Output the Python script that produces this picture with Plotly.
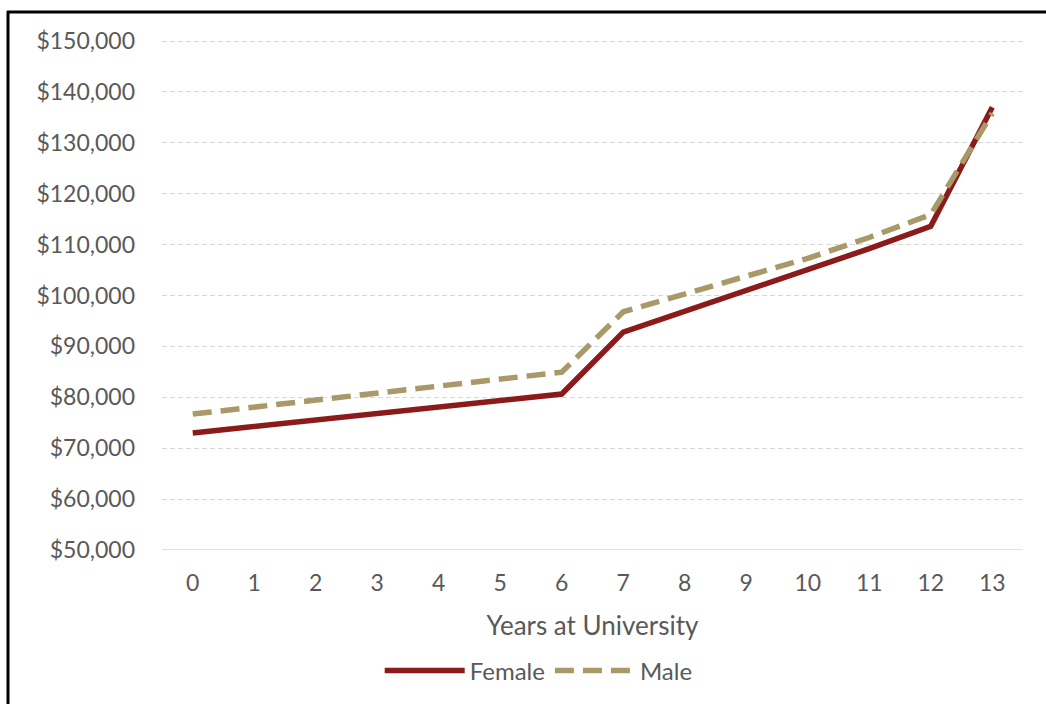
import plotly.graph_objects as go

# Average salary by years at the university
years = list(range(14))
female = [73000, 74250, 75500, 76750, 78000, 79300, 80650,
          92800, 96850, 100900, 104900, 109200, 113600, 137000]
male = [76700, 78100, 79500, 80850, 82200, 83600, 84950,
        96800, 100300, 103600, 107300, 111400, 115900, 135800]

y_ticks = list(range(50000, 150001, 10000))
y_labels = [f"${v:,}" for v in y_ticks]

font_family = "Lato, 'Open Sans', sans-serif"
text_grey = "#595959"

fig = go.Figure()
fig.add_trace(go.Scatter(
    x=years, y=female, name="Female", mode="lines",
    line=dict(color="#8B1A1A", width=5.5),
))
fig.add_trace(go.Scatter(
    x=years, y=male, name="Male", mode="lines",
    line=dict(color="#A99968", width=5.5, dash="19px,9px"),
))

fig.update_layout(
    width=1046, height=704,
    margin=dict(l=162, r=23, t=40, b=154, autoexpand=False),
    paper_bgcolor="white", plot_bgcolor="white",
    font=dict(family=font_family, size=23, color=text_grey),
    showlegend=True,
    legend=dict(orientation="h", xref="container", yref="container",
                x=0.515, xanchor="center", y=(704 - 671) / 704,
                yanchor="middle", font=dict(size=24, color=text_grey),
                itemwidth=80, tracegroupgap=0),
    xaxis=dict(
        range=[-0.5, 13.5], tickmode="array", tickvals=years,
        ticktext=[str(v) for v in years], automargin=False,
        showgrid=False, zeroline=False, showline=False,
        ticks="", ticklabelstandoff=17,
        tickfont=dict(size=23, color=text_grey),
        title=dict(text="Years at University", standoff=21,
                   font=dict(size=26, color=text_grey)),
    ),
    yaxis=dict(
        range=[50000, 150200], tickmode="array", tickvals=y_ticks,
        ticktext=y_labels, showgrid=True, gridcolor="#D9D9D9",
        griddash="5px,3px", gridwidth=1, zeroline=False, showline=False,
        ticks="", ticklabelstandoff=26, automargin=False,
        tickfont=dict(size=23, color=text_grey),
    ),
    shapes=[
        # solid baseline at the bottom of the value axis
        dict(type="line", xref="paper", yref="y", x0=0, x1=1,
             y0=50000, y1=50000, line=dict(color="#D9D9D9", width=1.5)),
        # frame around the chart (top and left edges)
        dict(type="line", xref="paper", yref="paper",
             x0=-155 / 861, x1=1.03, y0=1 + 28 / 510, y1=1 + 28 / 510,
             line=dict(color="black", width=3)),
        dict(type="line", xref="paper", yref="paper",
             x0=-154 / 861, x1=-154 / 861, y0=1 + 29 / 510, y1=-0.4,
             line=dict(color="black", width=3)),
    ],
)

fig.write_html("out.html")
